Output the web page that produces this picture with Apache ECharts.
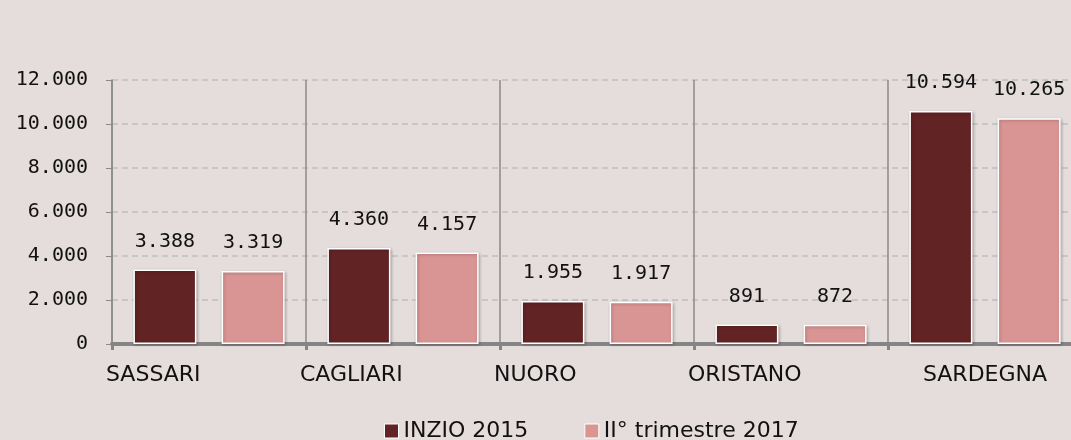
<!DOCTYPE html>
<html>
<head>
<meta charset="utf-8">
<script src="https://cdn.jsdelivr.net/npm/echarts@6/dist/echarts.min.js"></script>
<style>
  html, body { margin: 0; padding: 0; background: #e5dddc; }
  #chart { width: 1071px; height: 440px; }
</style>
</head>
<body>
<div id="chart"></div>
<script>
// dati
const categories = ['SASSARI', 'CAGLIARI', 'NUORO', 'ORISTANO', 'SARDEGNA'];
const inizio2015 = [3388, 4360, 1955, 891, 10594];
const trimestre2017 = [3319, 4157, 1917, 872, 10265];
const seriesNames = ['INZIO 2015', 'II° trimestre 2017'];

const numFont = '"DejaVu Sans Mono", monospace';
const textFont = '"DejaVu Sans", sans-serif';

// formato italiano con punto per le migliaia
const fmt = (v) => String(v).replace(/\B(?=(\d{3})+(?!\d))/g, '.');

const chart = echarts.init(document.getElementById('chart'));

const barStyle = (color) => ({
  color,
  borderColor: '#ffffff',
  borderWidth: 1.5,
  shadowColor: 'rgba(0,0,0,0.25)',
  shadowBlur: 3,
  shadowOffsetX: 1,
  shadowOffsetY: 1,
});

const valueLabel = {
  show: true,
  position: 'top',
  distance: 18,
  fontFamily: numFont,
  fontSize: 20,
  color: '#111',
  formatter: (p) => fmt(p.value),
};

chart.setOption({
  backgroundColor: '#e5dddc',
  animation: false,
  grid: { left: 112, top: 80, width: 970, bottom: 96, outerBoundsMode: 'none' },
  legend: {
    bottom: -7,
    left: 379,
    itemWidth: 14,
    itemHeight: 14,
    itemGap: 56,
    icon: 'rect',
    itemStyle: { borderColor: '#fff', borderWidth: 1 },
    textStyle: { fontFamily: textFont, fontSize: 22, color: '#111' },
    data: seriesNames,
  },
  xAxis: {
    type: 'category',
    data: categories,
    axisLine: { lineStyle: { color: '#858585', width: 4 } },
    axisTick: { show: true, interval: 0, length: 6, lineStyle: { color: '#858585', width: 3 } },
    axisLabel: {
      interval: 0,
      hideOverlap: false,
      fontFamily: textFont,
      fontSize: 22,
      color: '#111',
      margin: 20,
      // le province sono allineate a sinistra, il totale al centro
      formatter: (v, i) => (i < categories.length - 1 ? '{l|' + v + '}' : '{c|' + v + '}'),
      rich: {
        l: { width: 206, align: 'left', fontFamily: textFont, fontSize: 22, color: '#111' },
        c: { align: 'center', fontFamily: textFont, fontSize: 22, color: '#111' },
      },
    },
    splitLine: { show: true, interval: 0, lineStyle: { color: '#8a8a8a', width: 1.5 } },
  },
  yAxis: {
    type: 'value',
    min: 0,
    max: 12000,
    interval: 2000,
    axisLine: { show: true, lineStyle: { color: '#8a8a8a', width: 1.5 } },
    axisTick: { show: true, length: 6, lineStyle: { color: '#8a8a8a' } },
    axisLabel: {
      fontFamily: numFont,
      fontSize: 20,
      color: '#111',
      margin: 24,
      formatter: (v) => fmt(v),
    },
    splitLine: { show: true, lineStyle: { color: '#bdbdbd', type: [6, 4], width: 1.5 } },
  },
  series: [
    {
      name: seriesNames[0],
      type: 'bar',
      data: inizio2015,
      barWidth: 63,
      barGap: '40%',
      itemStyle: barStyle('#622324'),
      label: valueLabel,
    },
    {
      name: seriesNames[1],
      type: 'bar',
      data: trimestre2017,
      barWidth: 63,
      itemStyle: barStyle('#d99594'),
      label: valueLabel,
    },
  ],
});
</script>
</body>
</html>
